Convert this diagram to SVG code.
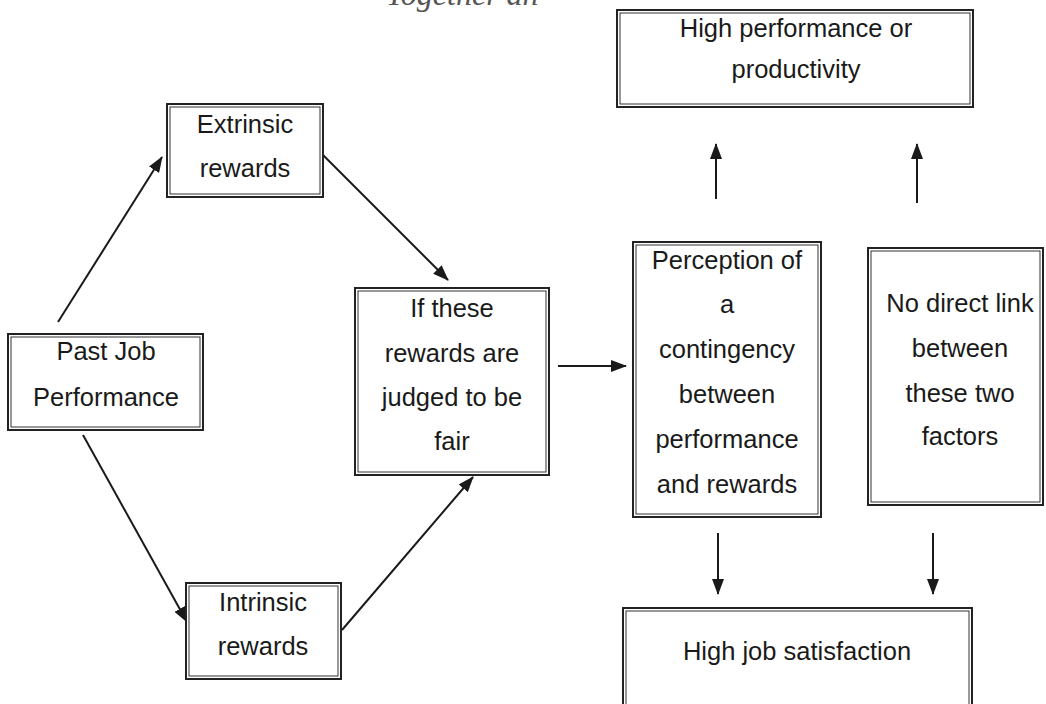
<svg xmlns="http://www.w3.org/2000/svg" width="1046" height="704" viewBox="0 0 1046 704">
<defs>
<marker id="ah" markerWidth="16" markerHeight="12" refX="15" refY="6" orient="auto" markerUnits="userSpaceOnUse">
<path d="M0,0 L16,6 L0,12 Z" fill="#1a1a1a"/>
</marker>
<style>
.o{fill:#fff;stroke:#222;stroke-width:2}
.i{fill:none;stroke:#333;stroke-width:1}
.t{font-family:"Liberation Sans",Arial,sans-serif;font-size:25.5px;fill:#1a1a1a;text-anchor:middle}
.c{stroke:#1a1a1a;stroke-width:2;fill:none;marker-end:url(#ah)}
</style>
</defs>
<rect width="1046" height="704" fill="#fff"/>
<text x="386" y="5" font-family="Liberation Serif, serif" font-style="italic" font-size="32" fill="#555">Together an</text>

<g id="connectors">
<line class="c" x1="58" y1="322" x2="162" y2="157"/>
<line class="c" x1="323" y1="155" x2="448" y2="280"/>
<line class="c" x1="83" y1="435" x2="187" y2="622"/>
<line class="c" x1="342" y1="630" x2="473" y2="477"/>
<line class="c" x1="558" y1="366" x2="626" y2="366"/>
<line class="c" x1="716" y1="199" x2="716" y2="144"/>
<line class="c" x1="917" y1="203" x2="917" y2="144"/>
<line class="c" x1="718" y1="533" x2="718" y2="594"/>
<line class="c" x1="933" y1="533" x2="933" y2="594"/>
</g>

<g id="past">
<rect class="o" x="8" y="334" width="195" height="96"/>
<rect class="i" x="11" y="337" width="189" height="90"/>
<text class="t" x="106" y="360">Past Job</text>
<text class="t" x="106" y="406">Performance</text>
</g>

<g id="extrinsic">
<rect class="o" x="167" y="104" width="156" height="93"/>
<rect class="i" x="170" y="107" width="150" height="87"/>
<text class="t" x="245" y="133">Extrinsic</text>
<text class="t" x="245" y="177">rewards</text>
</g>

<g id="intrinsic">
<rect class="o" x="186" y="583" width="155" height="96"/>
<rect class="i" x="189" y="586" width="149" height="90"/>
<text class="t" x="263" y="611">Intrinsic</text>
<text class="t" x="263" y="655">rewards</text>
</g>

<g id="fair">
<rect class="o" x="355" y="288" width="194" height="187"/>
<rect class="i" x="358" y="291" width="188" height="181"/>
<text class="t" x="452" y="317">If these</text>
<text class="t" x="452" y="362">rewards are</text>
<text class="t" x="452" y="406">judged to be</text>
<text class="t" x="452" y="450">fair</text>
</g>

<g id="perception">
<rect class="o" x="633" y="242" width="188" height="275"/>
<rect class="i" x="636" y="245" width="182" height="269"/>
<text class="t" x="727" y="269">Perception of</text>
<text class="t" x="727" y="313">a</text>
<text class="t" x="727" y="358">contingency</text>
<text class="t" x="727" y="403">between</text>
<text class="t" x="727" y="448">performance</text>
<text class="t" x="727" y="493">and rewards</text>
</g>

<g id="nolink">
<rect class="o" x="868" y="248" width="175" height="257"/>
<rect class="i" x="871" y="251" width="169" height="251"/>
<text class="t" x="960" y="312">No direct link</text>
<text class="t" x="960" y="357">between</text>
<text class="t" x="960" y="402">these two</text>
<text class="t" x="960" y="445">factors</text>
</g>

<g id="performance">
<rect class="o" x="617" y="10" width="356" height="97"/>
<rect class="i" x="620" y="13" width="350" height="91"/>
<text class="t" x="796" y="37">High performance or</text>
<text class="t" x="796" y="78">productivity</text>
</g>

<g id="satisfaction">
<rect class="o" x="623" y="608" width="349" height="110"/>
<rect class="i" x="626" y="611" width="343" height="110"/>
<text class="t" x="797" y="660">High job satisfaction</text>
</g>
</svg>
